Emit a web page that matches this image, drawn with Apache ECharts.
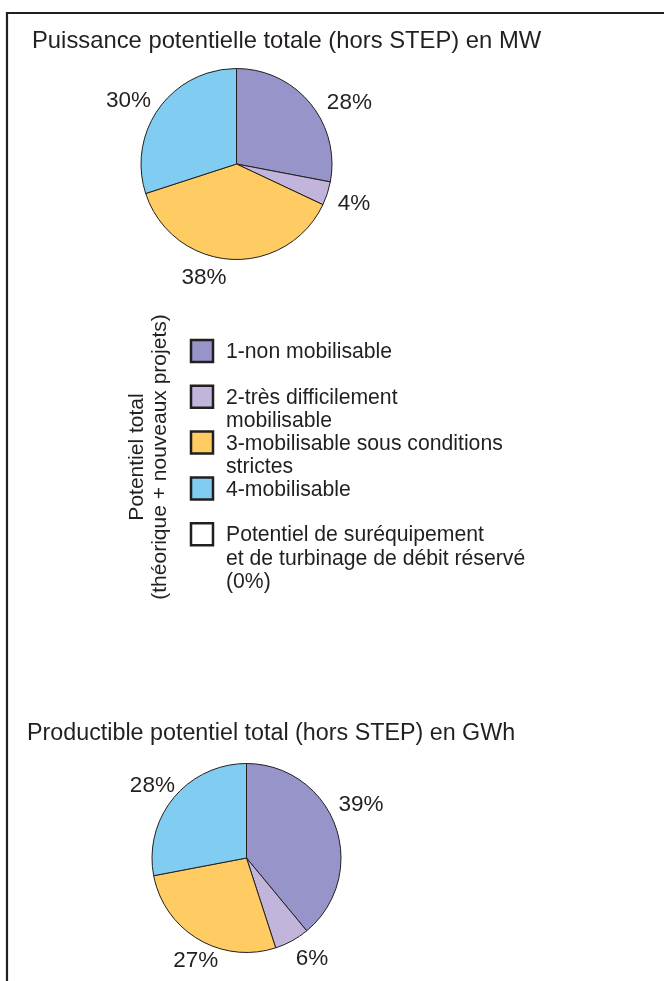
<!DOCTYPE html>
<html>
<head>
<meta charset="utf-8">
<script src="https://cdn.jsdelivr.net/npm/echarts@6/dist/echarts.min.js"></script>
<style>
html,body{margin:0;padding:0;background:#fff;}
#c{width:664px;height:981px;}
</style>
</head>
<body>
<div id="c"></div>
<script>
// ---- data ----
const categories = ['1-non mobilisable', '2-très difficilement mobilisable', '3-mobilisable sous conditions strictes', '4-mobilisable'];
const puissanceValues = [28, 4, 38, 30];    // % MW
const productibleValues = [39, 6, 27, 28];  // % GWh
const legendLabels = ['1-non mobilisable', '2-très difficilement\nmobilisable', '3-mobilisable sous conditions\nstrictes', '4-mobilisable', 'Potentiel de suréquipement\net de turbinage de débit réservé\n(0%)'];
const titles = ['Puissance potentielle totale (hors STEP) en MW', 'Productible potentiel total (hors STEP) en GWh'];
const sideLabel = 'Potentiel total\n(théorique + nouveaux projets)';

// ---- style ----
const colors = ['#9794C9', '#C1B5DB', '#FFCB63', '#80CDF1', '#FFFFFF'];
const ink = '#231F20';
const font = "'Liberation Sans', Arial, sans-serif";
// small label nudges relative to ECharts' outside-label layout
const nudge1 = [[3, 9], [-6, 6], [0, 5], [6, 1]];
const nudge2 = [[-13, -16], [-6, 6], [30, 9], [15, -3]];

function pieData(vals) {
  return vals.map((v, i) => ({ name: categories[i], value: v, itemStyle: { color: colors[i] } }));
}

function pieSeries(vals, center, radius, nudge) {
  return {
    type: 'pie',
    center: center,
    radius: radius,
    startAngle: 90,
    clockwise: true,
    avoidLabelOverlap: false,
    animation: false,
    silent: true,
    itemStyle: { borderColor: ink, borderWidth: 1 },
    label: {
      show: true,
      position: 'outside',
      formatter: '{c}%',
      fontFamily: font,
      fontSize: 22.5,
      color: ink,
      distanceToLabelLine: 3
    },
    labelLine: { show: false, length: 14, length2: 0 },
    labelLayout: function (p) {
      const n = nudge[p.dataIndex] || [0, 0];
      return { dx: n[0], dy: n[1] };
    },
    emphasis: { disabled: true },
    data: pieData(vals)
  };
}

const graphic = [];
// frame
graphic.push({
  type: 'polyline',
  shape: { points: [[7, 981], [7, 13], [664, 13]] },
  style: { stroke: ink, lineWidth: 2.2, fill: null }
});
// legend
const legX = 191, legY0 = 340, legStep = 45.8, sq = 22;
legendLabels.forEach((t, i) => {
  const y = legY0 + i * legStep;
  graphic.push({
    type: 'rect',
    shape: { x: legX, y: y, width: sq, height: sq },
    style: { fill: colors[i], stroke: ink, lineWidth: 2.5 }
  });
  graphic.push({
    type: 'text',
    x: 226, y: y + 0.5,
    style: {
      text: t, fontFamily: font, fontSize: 21.2, lineHeight: 23.5,
      fill: ink, textAlign: 'left', textVerticalAlign: 'top'
    }
  });
});
// rotated side label
graphic.push({
  type: 'text',
  x: 149, y: 457,
  rotation: Math.PI / 2,
  style: {
    text: sideLabel, fontFamily: font, fontSize: 21, lineHeight: 23,
    fill: ink, textAlign: 'center', textVerticalAlign: 'middle'
  }
});

const option = {
  backgroundColor: '#fff',
  animation: false,
  title: [
    { text: titles[0], left: 32, top: 29, padding: 0,
      textStyle: { fontFamily: font, fontSize: 23.8, fontWeight: 'normal', color: ink } },
    { text: titles[1], left: 27, top: 722, padding: 0,
      textStyle: { fontFamily: font, fontSize: 23.3, fontWeight: 'normal', color: ink } }
  ],
  series: [
    pieSeries(puissanceValues, [236.5, 164], 95.5, nudge1),
    pieSeries(productibleValues, [246.5, 858], 94.5, nudge2)
  ],
  graphic: graphic
};

const chart = echarts.init(document.getElementById('c'), null, { renderer: 'canvas' });
chart.setOption(option);
</script>
</body>
</html>
